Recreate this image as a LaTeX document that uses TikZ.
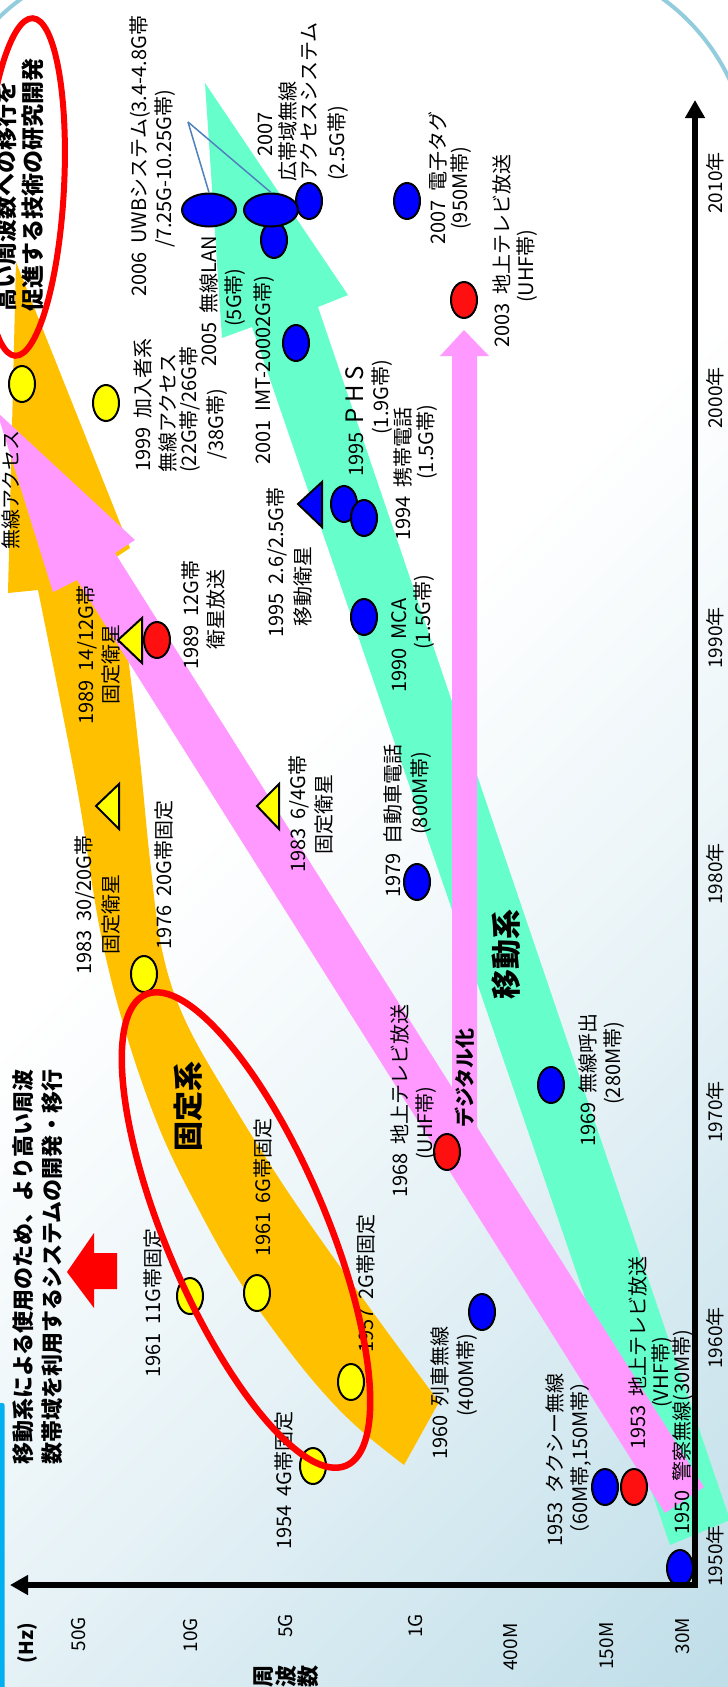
\documentclass[tikz,border=0pt]{standalone}
\usepackage{fontspec}
\setmainfont{Noto Sans CJK JP}
\usetikzlibrary{arrows.meta,shapes.geometric}
\definecolor{orb}{HTML}{FFC000}
\definecolor{grb}{HTML}{66FFCC}
\definecolor{pkb}{HTML}{FF99FF}
\definecolor{frm}{HTML}{93CDDD}
\definecolor{cyb}{HTML}{00B0F0}
\definecolor{bgA}{HTML}{E8F3F7}
\definecolor{bgB}{HTML}{BEDDE8}
\definecolor{mblue}{HTML}{0000FF}
\definecolor{mred}{HTML}{FF1010}
\definecolor{myel}{HTML}{FFFF00}
\definecolor{lnb}{HTML}{4F81BD}
\definecolor{hl}{HTML}{FF0000}
\pgfdeclarehorizontalshading{bgsh}{100bp}{color(0bp)=(white); color(45bp)=(white); color(62bp)=(bgA); color(86bp)=(bgB); color(100bp)=(bgB)}
\newcommand\lblfont{\fontsize{20}{24}\selectfont}
\begin{document}
\begin{tikzpicture}[x=1pt,y=-1pt,
  lb/.style={rotate=90,anchor=base west,inner sep=0pt,font=\lblfont},
  bigl/.style={lb,font=\fontsize{30}{30}\selectfont\bfseries},
  hdr/.style={lb,font=\fontsize{22}{22}\selectfont\bfseries},
  hdrtop/.style={lb,font=\fontsize{23}{23}\selectfont\bfseries},
  yr/.style={rotate=90,inner sep=0pt,font=\fontsize{19}{19}\selectfont},
  mk/.style={ellipse,draw=black,line width=2pt,inner sep=0pt,minimum width=26pt,minimum height=36pt},
  ym/.style={mk,fill=myel},
  rm/.style={mk,fill=mred},
  bm/.style={mk,fill=mblue},
  bigm/.style={bm,minimum width=54pt,minimum height=33pt},
  tri/.style={draw=black,line width=2pt,line join=miter},
  hlring/.style={draw=hl,line width=6.5pt},
  axisln/.style={line width=5.5pt,line join=miter},
]
\useasboundingbox (0,0) rectangle (728,1687);
\clip (0,0) rectangle (728,1687);
% background
\shade[shading=bgsh,shading angle=-45] (0,0) rectangle (728,1687);
\draw[frm,line width=4pt,rounded corners=211pt] (-65.6,-41.6) rectangle (749.6,2000);
\fill[cyb,rounded corners=2pt] (-3,1403) rectangle (4.5,1720);

% bands
\fill[orb] (16,262) -- (130,548) -- plot[smooth,tension=0.6] coordinates {(112,560) (127,650) (140,760) (150,860) (162,950) (185,1020) (230,1100) (290,1195) (364,1300) (439,1402)} -- (404,1465) -- plot[smooth,tension=0.6] coordinates {(404,1465) (364,1433) (330,1400) (290,1352) (240,1282) (200,1212) (160,1130) (125,1030) (100,930) (80,805) (60,700) (38,590)} -- (8,593) -- cycle;
\fill[grb] (205,83) -- (348,295) -- (318,307) -- (730,1520) -- (670,1545) -- (252,327) -- (222,338) -- cycle;
\fill[pkb] (-3,412) -- (135,540) -- (115,553) -- (704,1487) -- (665,1513) -- (77,580) -- (53,592) -- cycle;
\fill[pkb] (464,330) -- (489,356) -- (477,356) -- (477,1140) -- (452,1140) -- (452,356) -- (440,356) -- cycle;

% markers
\node[ym] (y54) at (313,1466) {};
\node[ym] (y61a) at (190,1296) {};
\node[ym] (y61b) at (257,1293) {};
\node[ym] (y57) at (351,1382) {};
\node[ym] (y76) at (144,974) {};
\node[ym] (y99) at (106,403) {};
\node[ym] (ywa) at (22,384) {};
\node[rm] (r89) at (157,640) {};
\node[rm] (r68) at (447,1152) {};
\node[rm] (r53) at (634,1487) {};
\node[rm] (r03) at (464,300) {};
\node[bm] (b07tag) at (407,201) {};
\node[bm] (b53) at (605,1487) {};
\node[bm] (b60) at (482,1312) {};
\node[bm] (b50) at (680,1568) {};
\node[bm] (b69) at (551,1085) {};
\node[bm] (b79) at (417,882) {};
\node[bm] (b90) at (364,617) {};
\node[bm] (b95) at (344,504) {};
\node[bm] (b94) at (364,518) {};
\node[bm] (b01) at (296,343) {};
\node[bm] (b07r) at (309,201) {};
\node[bm] (b07s) at (274,240) {};
\node[bigm] (lan) at (209,210) {};
\node[bigm] (wide) at (271,210) {};
\filldraw[tri,fill=myel] (118,640) -- (142,618) -- (142,663) -- cycle;
\filldraw[tri,fill=myel] (96,806) -- (119,784) -- (119,829) -- cycle;
\filldraw[tri,fill=myel] (257,806) -- (279,784) -- (279,829) -- cycle;
\filldraw[tri,fill=mblue] (298,504) -- (322,482) -- (322,527) -- cycle;
\coordinate (uwbp) at (188,122);
\draw[lnb,line width=1.5pt] (uwbp) -- (lan.north);
\draw[lnb,line width=1.5pt] (uwbp) -- (wide.north);

% labels
\node[lb] (uwb1) at (146,297) {2006~~UWBシステム(3.4-4.8G帯};
\node[lb] (uwb2) at (171,248) {/7.25G-10.25G帯)};
\node[lb] (lan1) at (216,367) {2005~~無線LAN};
\node[lb] (lan2) at (241,327) {(5G帯)};
\node[lb] (imt) at (270,465) {2001~~IMT-20002G帯)};
\node[lb] (w07a) at (272,157) {2007};
\node[lb] (w07b) at (295,182) {広帯域無線};
\node[lb] (w07c) at (316,181) {アクセスシステム};
\node[lb] (w07d) at (344,181) {(2.5G帯)};
\node[lb] (tag1) at (445,245) {2007~~電子タグ};
\node[lb] (tag2) at (467,230) {(950M帯)};
\node[lb] (dtv1) at (509,348) {2003~~地上テレビ放送};
\node[lb] (dtv2) at (533,303) {(UHF帯)};
\node[lb] (wa) at (18,550) {無線アクセス};
\node[lb] (s99a) at (150,472) {1999~~加入者系};
\node[lb] (s99b) at (175,473) {無線アクセス};
\node[lb] (s99c) at (196,473) {(22G帯/26G帯};
\node[lb] (s99d) at (223,460) {/38G帯)};
\node[lb] (phs1) at (363,477) {1995~~{\fontsize{24}{24}\selectfont P H S}};
\node[lb] (phs2) at (388,435) {(1.9G帯)};
\node[lb] (kt1) at (410,541) {1994~~携帯電話};
\node[lb] (kt2) at (433,480) {(1.5G帯)};
\node[lb] (ms1) at (283,638) {1995~~2.6/2.5G帯};
\node[lb] (ms2) at (310,627) {移動衛星};
\node[lb] (bs1) at (198,670) {1989~~12G帯};
\node[lb] (bs2) at (223,650) {衛星放送};
\node[lb] (fs1) at (93,725) {1989~~14/12G帯};
\node[lb] (fs2) at (118,705) {固定衛星};
\node[lb] (f64a) at (305,873) {1983~~6/4G帯};
\node[lb] (f64b) at (331,855) {固定衛星};
\node[lb] (f30a) at (91,975) {1983~~30/20G帯};
\node[lb] (f30b) at (118,955) {固定衛星};
\node[lb] (f20) at (171,950) {1976~~20G帯固定};
\node[bigl] (kotei) at (199,1152) {固定系};
\node[lb] (f6) at (270,1257) {1961~~6G帯固定};
\node[lb] (f11) at (160,1378) {1961~~11G帯固定};
\node[lb] (f4) at (291,1550) {1954~~4G帯固定};
\node[lb] (f2) at (373,1353) {1957~~2G帯固定};
\node[lb] (tr1) at (447,1460) {1960~~列車無線};
\node[lb] (tr2) at (473,1417) {(400M帯)};
\node[lb] (tx1) at (562,1547) {1953~~タクシー無線};
\node[lb] (tx2) at (587,1545) {（60M帯,150M帯）};
\node[lb] (vhf1) at (645,1450) {1953~~地上テレビ放送};
\node[lb] (vhf2) at (668,1408) {(VHF帯)};
\node[lb] (pol) at (689,1535) {1950~~警察無線(30M帯)};
\node[lb] (pg1) at (595,1147) {1969~~無線呼出};
\node[lb] (pg2) at (620,1105) {(280M帯)};
\node[lb] (uhf1) at (407,1198) {1968~~地上テレビ放送};
\node[lb] (uhf2) at (432,1160) {(UHF帯)};
\node[bigl] (idou) at (517,1000) {移動系};
\node[lb] (car1) at (400,898) {1979~~自動車電話};
\node[lb] (car2) at (427,835) {(800M帯)};
\node[lb] (mca1) at (406,693) {1990~~MCA};
\node[lb] (mca2) at (430,650) {(1.5G帯)};
\node[lb,font=\fontsize{20}{20}\selectfont\bfseries] (dig) at (472,1128) {デジタル化};
\node[hdr] (hdr1) at (31,1465) {移動系による使用のため、より高い周波};
\node[hdr] (hdr2) at (60,1465) {数帯域を利用するシステムの開発・移行};
\node[hdrtop] (top1) at (14,312) {高い周波数への移行を};
\node[hdrtop] (top2) at (41,312) {促進する技術の研究開発};

% highlight rings and arrow
\draw[hlring,rotate around={-67:(246,1230)}] (246,1230) ellipse [x radius=256pt,y radius=80pt];
\draw[hlring,line width=6pt,rotate around={-3:(24,187)}] (24,187) ellipse [x radius=40pt,y radius=169pt];
\fill[hl] (67,1272) -- (94,1233) -- (94,1253) -- (117,1253) -- (117,1289) -- (94,1289) -- (94,1308) -- cycle;

% axes
\coordinate (O) at (695,1585);
\coordinate (xtip) at (10,1585);
\coordinate (ytip) at (695,100);
\draw[axisln,{Triangle[length=18pt,width=19pt]}-{Triangle[length=18pt,width=19pt]}] (xtip) -- (O) -- (ytip);

% year labels
\node[yr] (t2010) at (715,183) {2010年};
\node[yr] (t2000) at (715,398) {2000年};
\node[yr] (t1990) at (715,638) {1990年};
\node[yr] (t1980) at (715,874) {1980年};
\node[yr] (t1970) at (715,1112) {1970年};
\node[yr] (t1960) at (715,1338) {1960年};
\node[yr] (t1950) at (715,1556) {1950年};
% frequency labels
\node[yr,font=\fontsize{19}{19}\selectfont\bfseries] (fhz) at (27,1643) {(Hz)};
\node[yr] (f50g) at (79,1634) {50G};
\node[yr] (f10g) at (191,1635) {10G};
\node[yr] (f5g) at (286,1626) {5G};
\node[yr] (f1g) at (416,1626) {1G};
\node[yr] (f400) at (511,1647) {400M};
\node[yr] (f150) at (607,1646) {150M};
\node[yr] (f30) at (683,1636) {30M};
\node[yr,font=\fontsize{22}{22}\selectfont\bfseries] (sh1) at (264,1676) {周};
\node[yr,font=\fontsize{22}{22}\selectfont\bfseries] (sh2) at (286,1676) {波};
\node[yr,font=\fontsize{22}{22}\selectfont\bfseries] (sh3) at (308,1676) {数};
\end{tikzpicture}
\end{document}
